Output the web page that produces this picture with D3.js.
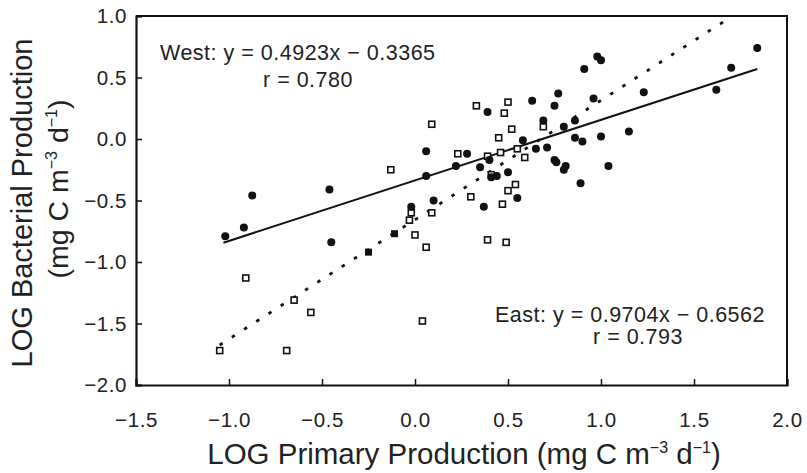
<!DOCTYPE html>
<html>
<head>
<meta charset="utf-8">
<script src="https://cdn.jsdelivr.net/npm/d3@7"></script>
<style>
  body { margin: 0; background: #fff; }
  svg { font-family: "Liberation Sans", Arial, Helvetica, sans-serif; }
  .axis path, .axis line { stroke: #111; }
  .axis text { fill: #222; }
</style>
</head>
<body>
<svg id="chart" width="807" height="473"></svg>
<script>
////////////
// DATA (LOG primary production x, LOG bacterial production y)
////////////

// West stations - filled circles
const westPP = [-1.02, -0.92, -0.875, -0.46, -0.45, 0.06, 0.06, 0.10, -0.02, 0.22,
  0.28, 0.35, 0.37, 0.39, 0.40, 0.44, 0.41, 0.50, 0.55, 0.58,
  0.63, 0.65, 0.69, 0.71, 0.75, 0.77, 0.75, 0.76, 0.80, 0.81,
  0.80, 0.86, 0.86, 0.89, 0.90, 0.91, 0.96, 0.98, 1.00, 1.00,
  1.04, 1.15, 1.23, 1.62, 1.70, 1.84];
const westBP = [-0.79, -0.72, -0.46, -0.41, -0.84, -0.10, -0.30, -0.50, -0.55, -0.22,
  -0.12, -0.23, -0.55, 0.22, -0.17, -0.30, -0.31, -0.27, -0.48, -0.01,
  0.31, -0.08, 0.15, -0.07, 0.27, 0.37, -0.17, -0.19, 0.10, -0.22,
  -0.25, 0.15, 0.01, -0.36, -0.02, 0.57, 0.33, 0.67, 0.64, 0.02,
  -0.22, 0.06, 0.38, 0.40, 0.58, 0.74];

// East stations - open squares
const eastPP = [-1.05, -0.91, -0.69, -0.65, -0.56, -0.13, -0.02, -0.03, 0.00, 0.04,
  0.06, 0.09, 0.09, 0.23, 0.30, 0.33, 0.39, 0.39, 0.41, 0.46,
  0.45, 0.47, 0.48, 0.49, 0.50, 0.50, 0.52, 0.54, 0.55, 0.59, 0.69];
const eastBP = [-1.72, -1.13, -1.72, -1.31, -1.41, -0.25, -0.60, -0.66, -0.78, -1.48,
  -0.88, -0.60, 0.12, -0.12, -0.47, 0.27, -0.14, -0.82, -0.29, -0.11,
  0.01, -0.53, 0.21, -0.84, 0.30, -0.42, 0.08, -0.37, -0.08, -0.15, 0.10];

// a couple of points printed as filled squares
const solidSqPP = [-0.25, -0.11];
const solidSqBP = [-0.92, -0.77];

// regression fits: [slope, intercept], drawn over [xStart, xEnd]
const westFit = [0.4923, -0.3365];
const westFitRange = [-1.03, 1.84];
const eastFit = [0.9704, -0.6562];
const eastFitRange = [-1.05, 1.69];

const xTicks = [-1.5, -1.0, -0.5, 0.0, 0.5, 1.0, 1.5, 2.0];
const yTicks = [-2.0, -1.5, -1.0, -0.5, 0.0, 0.5, 1.0];

////////////
// SETUP
////////////
const margin = { left: 136, right: 20, top: 16, bottom: 88 };
const width = 807, height = 473;
const svg = d3.select("#chart");

const x = d3.scaleLinear().domain([-1.5, 2.0]).range([margin.left, width - margin.right]);
const y = d3.scaleLinear().domain([-2.0, 1.0]).range([height - margin.bottom, margin.top]);
const fmt = d3.format(".1f");

////////////
// AXES
////////////
svg.append("g")
  .attr("class", "axis")
  .attr("transform", `translate(0,${y(-2)})`)
  .call(d3.axisBottom(x).tickValues(xTicks).tickFormat(fmt).tickSize(-6).tickPadding(27))
  .call(g => g.select(".domain").attr("stroke-width", 2.2))
  .call(g => g.selectAll(".tick line").attr("stroke-width", 1.5))
  .call(g => g.selectAll("text").attr("font-size", 20.5).attr("letter-spacing", 0.6).attr("font-family", null));

svg.append("g")
  .attr("class", "axis")
  .attr("transform", `translate(${x(-1.5)},0)`)
  .call(d3.axisLeft(y).tickValues(yTicks).tickFormat(fmt).tickSize(-6).tickPadding(9))
  .call(g => g.select(".domain").attr("stroke-width", 2.2))
  .call(g => g.selectAll(".tick line").attr("stroke-width", 1.5))
  .call(g => g.selectAll("text").attr("font-size", 20.5).attr("letter-spacing", 0.6).attr("font-family", null));

// top and right frame
svg.append("path")
  .attr("d", `M${x(-1.5)},${y(1)}H${x(2)}V${y(-2)}`)
  .attr("fill", "none")
  .attr("stroke", "#111")
  .attr("stroke-width", 2);

////////////
// REGRESSION LINES
////////////
const line = d3.line().x(d => x(d[0])).y(d => y(d[1]));

svg.append("path")
  .datum(westFitRange.map(v => [v, westFit[0] * v + westFit[1]]))
  .attr("d", line)
  .attr("fill", "none")
  .attr("stroke", "#111")
  .attr("stroke-width", 2);

svg.append("path")
  .datum(eastFitRange.map(v => [v, eastFit[0] * v + eastFit[1]]))
  .attr("d", line)
  .attr("fill", "none")
  .attr("stroke", "#111")
  .attr("stroke-width", 2.8)
  .attr("stroke-dasharray", "3.5,11");

////////////
// POINTS
////////////
const sq = 6;

svg.append("g")
  .selectAll("rect")
  .data(d3.zip(eastPP, eastBP))
  .join("rect")
  .attr("x", d => x(d[0]) - sq / 2)
  .attr("y", d => y(d[1]) - sq / 2)
  .attr("width", sq)
  .attr("height", sq)
  .attr("fill", "#fff")
  .attr("stroke", "#111")
  .attr("stroke-width", 1.6);

svg.append("g")
  .selectAll("rect")
  .data(d3.zip(solidSqPP, solidSqBP))
  .join("rect")
  .attr("x", d => x(d[0]) - 3.5)
  .attr("y", d => y(d[1]) - 3.5)
  .attr("width", 7)
  .attr("height", 7)
  .attr("fill", "#111");

svg.append("g")
  .selectAll("circle")
  .data(d3.zip(westPP, westBP))
  .join("circle")
  .attr("cx", d => x(d[0]))
  .attr("cy", d => y(d[1]))
  .attr("r", 4)
  .attr("fill", "#111");

////////////
// LABELS
////////////
const ann = svg.append("g").attr("fill", "#222").attr("font-size", 21.5).attr("letter-spacing", 0.5);
ann.append("text").attr("x", 160).attr("y", 60).text("West: y = 0.4923x \u2212 0.3365");
ann.append("text").attr("x", 263).attr("y", 87).text("r = 0.780");
ann.append("text").attr("x", 495).attr("y", 322).text("East: y = 0.9704x \u2212 0.6562");
ann.append("text").attr("x", 593).attr("y", 344).text("r = 0.793");

// superscripted unit text
function units(sel) {
  sel.append("tspan").text("(mg C m");
  sel.append("tspan").attr("dy", -11).attr("font-size", 16).text("\u22123");
  sel.append("tspan").attr("dy", 11).text(" d");
  sel.append("tspan").attr("dy", -11).attr("font-size", 16).text("\u22121");
  sel.append("tspan").attr("dy", 11).text(")");
}

// x title
const xt = svg.append("text")
  .attr("x", 464).attr("y", 464)
  .attr("text-anchor", "middle")
  .attr("font-size", 29.5)
  .attr("fill", "#222");
xt.append("tspan").text("LOG Primary Production ");
units(xt);

// y title, two lines
svg.append("text")
  .attr("transform", "translate(32,203) rotate(-90)")
  .attr("text-anchor", "middle")
  .attr("font-size", 29)
  .attr("fill", "#222")
  .text("LOG Bacterial Production");

const yt = svg.append("text")
  .attr("transform", "translate(68,189) rotate(-90)")
  .attr("text-anchor", "middle")
  .attr("font-size", 28.5)
  .attr("fill", "#222");
units(yt);
</script>
</body>
</html>
